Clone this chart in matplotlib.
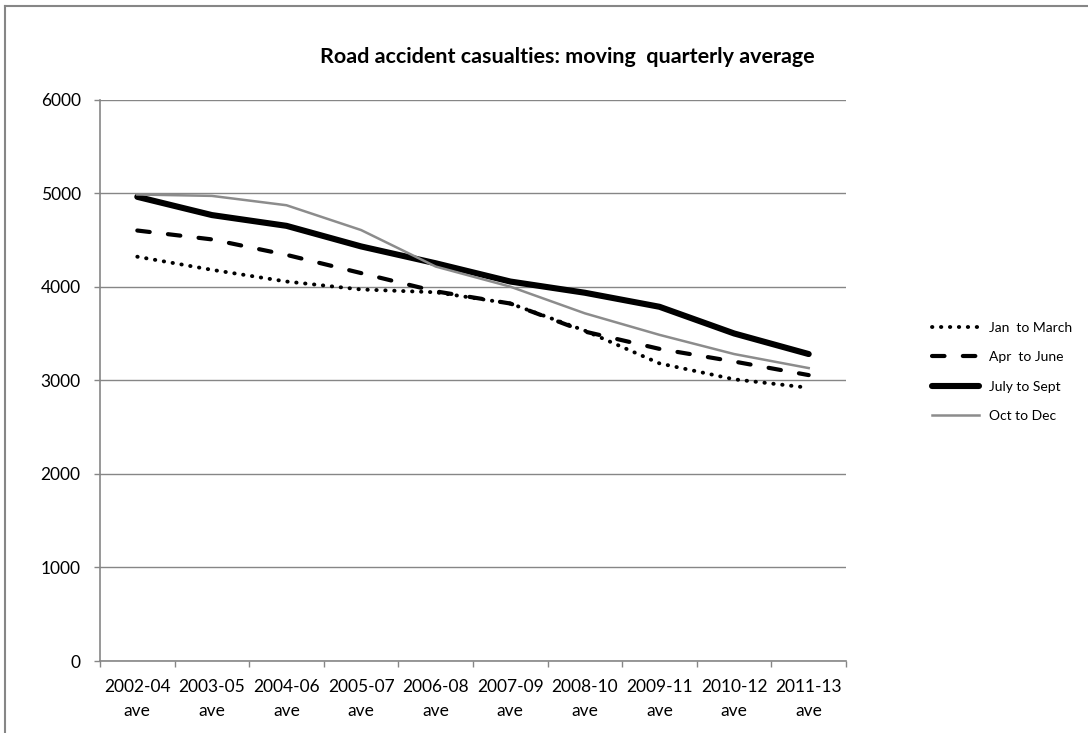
import matplotlib
matplotlib.use("Agg")
import matplotlib.pyplot as plt
import numpy as np

plt.rcParams['font.family'] = ['Lato', 'DejaVu Sans']

# data
periods = ["2002-04\nave", "2003-05\nave", "2004-06\nave", "2005-07\nave", "2006-08\nave",
           "2007-09\nave", "2008-10\nave", "2009-11\nave", "2010-12\nave", "2011-13\nave"]
jan_mar = [4320, 4180, 4055, 3970, 3940, 3820, 3530, 3180, 3010, 2920]
apr_jun = [4600, 4505, 4340, 4145, 3950, 3820, 3520, 3335, 3200, 3055]
jul_sep = [4960, 4765, 4650, 4430, 4250, 4055, 3935, 3785, 3500, 3280]
oct_dec = [4985, 4970, 4870, 4605, 4215, 4000, 3715, 3485, 3280, 3130]

grey = "#868686"

fig = plt.figure(figsize=(10.88, 7.33), dpi=100)
ax = fig.add_axes([100 / 1088, 72 / 733, 746 / 1088, 561.5 / 733])

x = np.arange(len(periods)) + 0.5

ax.plot(x, jan_mar, color="black", lw=2.8, linestyle=(0, (0.1, 2.2)),
        dash_capstyle="round", label="Jan  to March", zorder=3)
ax.plot(x, apr_jun, color="black", lw=3.0, linestyle=(0, (3.0, 4.4)),
        dash_capstyle="round", label="Apr  to June", zorder=3)
ax.plot(x, jul_sep, color="black", lw=4.4, solid_capstyle="round",
        label="July to Sept", zorder=3)
ax.plot(x, oct_dec, color="#8c8c8c", lw=1.8, label="Oct to Dec", zorder=3)

ax.set_xlim(0, len(periods))
ax.set_ylim(0, 6000)
ax.set_yticks(np.arange(0, 6001, 1000))
ax.yaxis.grid(True, color=grey, lw=1)
ax.set_axisbelow(True)

ax.set_xticks(np.arange(0, len(periods) + 1))
ax.set_xticklabels([])
ax.set_xticks(x, minor=True)
ax.set_xticklabels(periods, minor=True, fontsize=12.5, linespacing=1.6)
ax.tick_params(axis="x", which="major", length=4.5, color=grey, width=1)
ax.tick_params(axis="x", which="minor", length=0, pad=13)
ax.tick_params(axis="y", length=4.5, color=grey, width=1, labelsize=12.5, pad=9.4)

for side in ["top", "right"]:
    ax.spines[side].set_visible(False)
for side in ["left", "bottom"]:
    ax.spines[side].set_color(grey)
    ax.spines[side].set_linewidth(1.2)

title = fig.text(567 / 1088, 1 - 57 / 733, "Road accident casualties: moving  quarterly average",
                 ha="center", va="center", fontsize=12.5, fontweight="bold")
# fit the title to the width it has in the original (about 495 px)
renderer = fig.canvas.get_renderer()
w = title.get_window_extent(renderer).width
title.set_fontsize(12.5 * 495 / w)

fig.legend(loc="center left", bbox_to_anchor=(932 / 1088, 1 - 372 / 733),
           frameon=False, fontsize=10, handlelength=3.4, handletextpad=0.7,
           labelspacing=1.25, borderpad=0, borderaxespad=0)

# chart frame
fig.add_artist(plt.Line2D([5 / 1088, 1], [1 - 6 / 733, 1 - 6 / 733], color=grey, lw=1.5))
fig.add_artist(plt.Line2D([5 / 1088, 5 / 1088], [0, 1 - 6 / 733], color=grey, lw=1.5))

fig.savefig("out.png", dpi=100)
